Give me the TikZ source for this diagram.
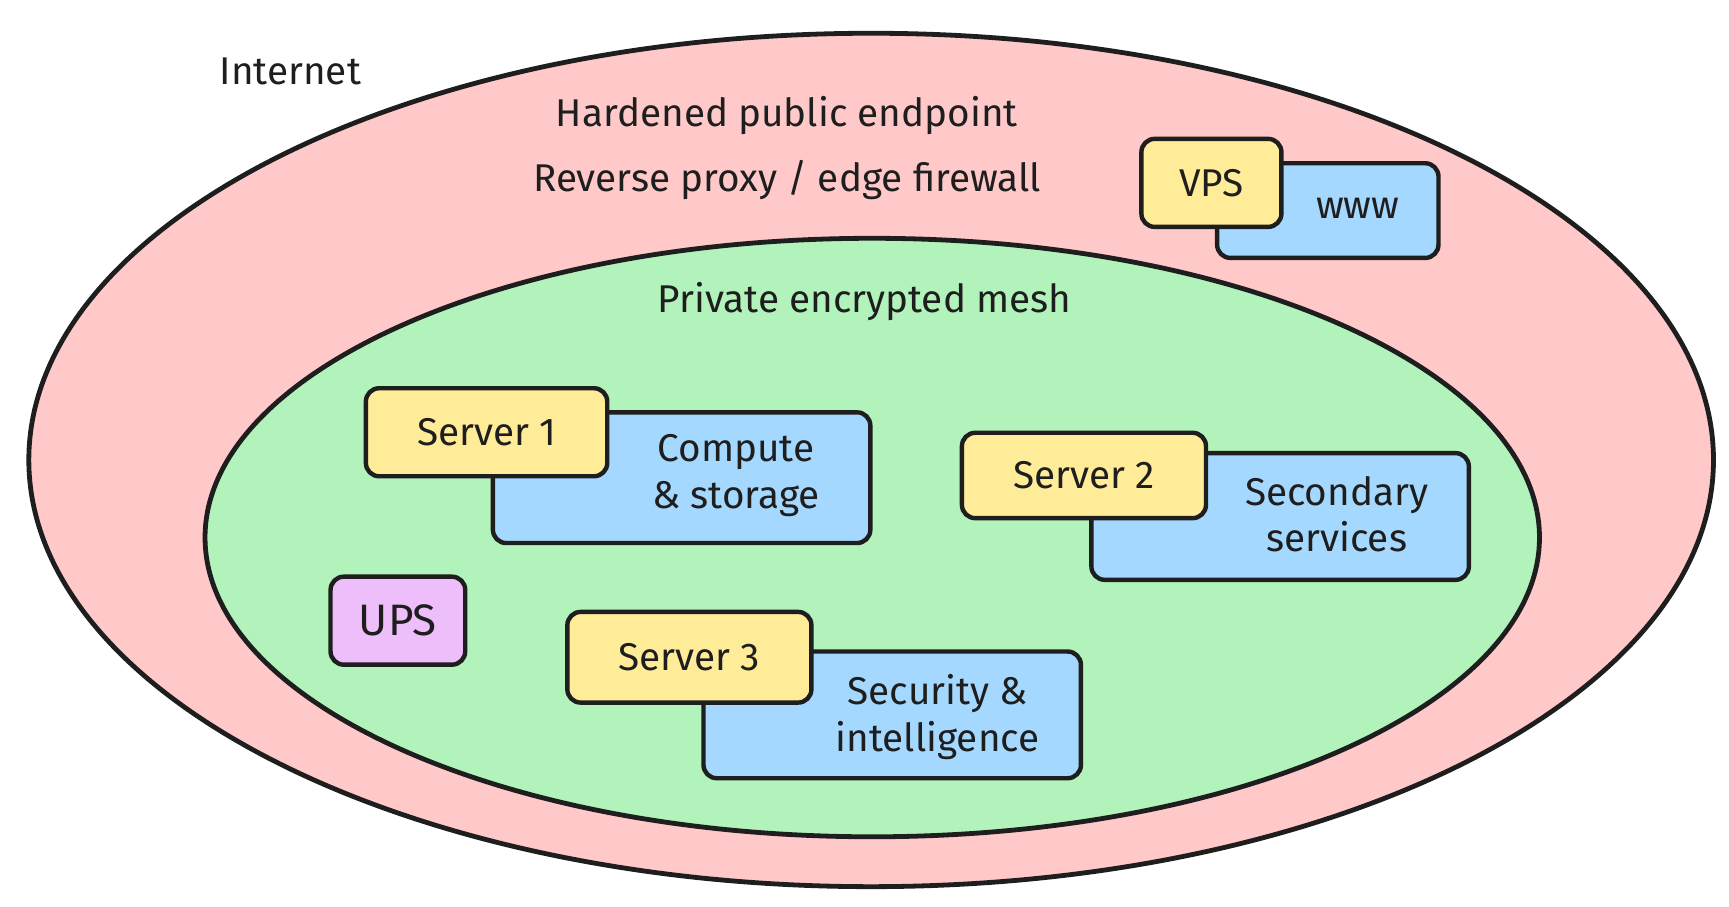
\documentclass[tikz,border=0pt]{standalone}
\usepackage{fontspec}
\setmainfont{Fira Sans}
\definecolor{zonered}{HTML}{FFC9C9}
\definecolor{zonegreen}{HTML}{B2F2BB}
\definecolor{boxyellow}{HTML}{FFEC99}
\definecolor{boxblue}{HTML}{A5D8FF}
\definecolor{boxpurple}{HTML}{EEBEFA}
\definecolor{ink}{HTML}{1E1E1E}
\tikzset{
  zone/.style={draw=ink, line width=3.6pt},
  box/.style={draw=ink, line width=3.3pt, rounded corners=10pt, inner sep=0pt},
  lbl/.style={text=ink, font=\fontsize{29}{35}\selectfont, align=center, inner sep=0pt},
}
\begin{document}
\begin{tikzpicture}[x=0.831pt,y=0.831pt,yscale=-1,xscale=1]
\useasboundingbox (0,0) rectangle (1560,818);

% zones
\draw [zone, fill=zonered] (786,415) ellipse [x radius=760, y radius=385];
\draw [zone, fill=zonegreen] (787,485) ellipse [x radius=602, y radius=270];

\node [lbl] (inet) at (262,64) {Internet};
\node [lbl] (harden) at (710,104) {Hardened public endpoint};
\node [lbl] (proxy) at (710,162) {Reverse proxy / edge firewall};
\node [lbl] (mesh) at (780,272) {Private encrypted mesh};

% VPS
\node [box, fill=boxblue, minimum width=166pt, minimum height=71pt] (www) at (1198,190) {};
\node [lbl] (wwwtxt) at (1225,188) {www};
\node [box, fill=boxyellow, minimum width=105pt, minimum height=66pt] (vps) at (1093,165) {};
\node [lbl] at (vps) {VPS};

% Server 1
\node [box, fill=boxblue, minimum width=283pt, minimum height=98pt] (svc1) at (615,431) {};
\node [lbl] (svc1txt) at (664,429) {Compute\\\& storage};
\node [box, fill=boxyellow, minimum width=181pt, minimum height=66pt] (srv1) at (439,390) {};
\node [lbl] at (srv1) {Server 1};

% Server 2
\node [box, fill=boxblue, minimum width=283pt, minimum height=95pt] (svc2) at (1155,466) {};
\node [lbl] (svc2txt) at (1206,464) {Secondary\\services};
\node [box, fill=boxyellow, minimum width=183pt, minimum height=64pt] (srv2) at (978,429) {};
\node [lbl] at (srv2) {Server 2};

% Server 3
\node [box, fill=boxblue, minimum width=283pt, minimum height=95pt] (svc3) at (805,645) {};
\node [lbl] (svc3txt) at (846,647) {Security \&\\intelligence};
\node [box, fill=boxyellow, minimum width=183pt, minimum height=68pt] (srv3) at (622,593) {};
\node [lbl] at (srv3) {Server 3};

% UPS
\node [box, fill=boxpurple, minimum width=101pt, minimum height=66pt] (ups) at (359,560) {};
\node [lbl, font=\fontsize{33}{38}\selectfont] at (ups) {UPS};
\end{tikzpicture}
\end{document}
